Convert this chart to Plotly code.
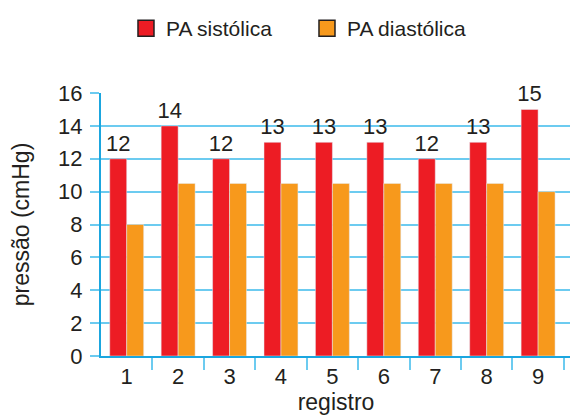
import plotly.graph_objects as go

registros = [1, 2, 3, 4, 5, 6, 7, 8, 9]
pa_sistolica = [12, 14, 12, 13, 13, 13, 12, 13, 15]
pa_diastolica = [8, 10.5, 10.5, 10.5, 10.5, 10.5, 10.5, 10.5, 10]
y_ticks = [0, 2, 4, 6, 8, 10, 12, 14, 16]

RED = "#ed1c24"
ORANGE = "#f7991c"
TXT = "#231f20"
GRID = "#6ccbf0"
AXIS = "#1ba6df"
FONT = "Liberation Sans"

fig = go.Figure()
fig.add_trace(go.Bar(x=registros, y=pa_sistolica, marker_color=RED, showlegend=False,
                     text=pa_sistolica, textposition="outside", cliponaxis=False,
                     constraintext="none",
                     textfont=dict(size=22, color=TXT, family=FONT)))
fig.add_trace(go.Bar(x=registros, y=pa_diastolica, marker_color=ORANGE, showlegend=False))
# legend entries
for name, col in [("PA sistólica", RED), ("PA diastólica", ORANGE)]:
    fig.add_trace(go.Scatter(x=[None], y=[None], mode="markers", name=name,
                             marker=dict(symbol="square", size=20, color=col,
                                         line=dict(color="#231f20", width=1.5))))

fig.update_layout(
    width=570, height=411,
    margin=dict(l=93, r=7, t=85, b=63, autoexpand=False),
    paper_bgcolor="white", plot_bgcolor="white",
    barmode="group", bargap=0.34, bargroupgap=0,
    font=dict(family=FONT, size=21, color=TXT),
    showlegend=True,
    legend=dict(orientation="h", x=0.207, xref="container", xanchor="left",
                y=1.0, yref="container", yanchor="top",
                itemsizing="trace", entrywidth=136, entrywidthmode="pixels",
                font=dict(size=21, color=TXT), bgcolor="rgba(0,0,0,0)"),
    xaxis=dict(range=[0.5, 9.64], tickmode="array", tickvals=registros,
               ticktext=[str(r) for r in registros], ticks="", showgrid=False,
               zeroline=False, showline=True, linecolor=AXIS, linewidth=2,
               tickfont=dict(size=22, color=TXT), automargin=False,
               minor=dict(tickmode="array", tickvals=[r + 0.5 for r in registros],
                          ticks="outside", ticklen=12, tickcolor=GRID, tickwidth=1.5,
                          showgrid=False),
               title=dict(text="registro", font=dict(size=23, color=TXT), standoff=5)),
    yaxis=dict(range=[0, 16], tickmode="array", tickvals=y_ticks, ticks="outside",
               ticklen=9, tickcolor=GRID, tickwidth=1.5, showgrid=True, gridcolor=GRID,
               gridwidth=1.5, zeroline=False, showline=True, linecolor=AXIS, linewidth=2,
               tickfont=dict(size=22, color=TXT), automargin=False, ticklabelstandoff=3,
               title=dict(text="pressão (cmHg)", font=dict(size=23, color=TXT), standoff=24)),
)

fig.write_html("out.html")
